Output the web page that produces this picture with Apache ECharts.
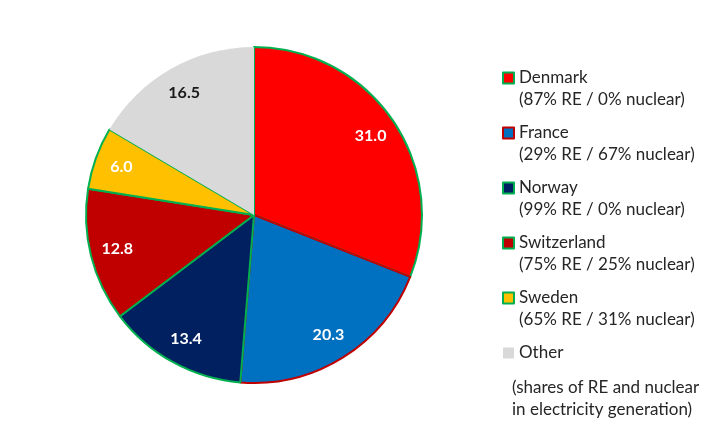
<!DOCTYPE html>
<html>
<head>
<meta charset="UTF-8">
<title>Pie</title>
<script type="text/javascript" src="https://cdn.jsdelivr.net/npm/echarts@6/dist/echarts.min.js"></script>
</head>
<body style="margin:0;background:#fff;">
<div id="box" style="width:720px;height:432px;"></div>

<script type="text/javascript">
// data
var names = ['Denmark', 'France', 'Norway', 'Switzerland', 'Sweden', 'Other'];
var values = [31.0, 20.3, 13.4, 12.8, 6.0, 16.5];
var details = ['(87% RE / 0% nuclear)', '(29% RE / 67% nuclear)', '(99% RE / 0% nuclear)',
               '(75% RE / 25% nuclear)', '(65% RE / 31% nuclear)', ''];
var fills = ['#FF0000', '#0070C0', '#002060', '#C00000', '#FFC000', '#D9D9D9'];
var borders = ['#00B050', '#C00000', '#00B050', '#00B050', '#00B050', null];
var labelColors = ['#fff', '#fff', '#fff', '#fff', '#fff', '#1a1a1a'];
var note = '(shares of RE and nuclear\nin electricity generation)';

var font = 'Lato';

var pieData = [];
var labelData = [];
for (var i = 0; i < names.length; i++) {
  pieData.push({
    name: names[i],
    value: values[i],
    itemStyle: {
      color: fills[i],
      borderColor: borders[i] || fills[i],
      borderWidth: borders[i] ? 2 : 0
    }
  });
  labelData.push({
    name: names[i],
    value: values[i],
    label: { color: labelColors[i] }
  });
}

var mychart = echarts.init(document.getElementById('box'));

mychart.setOption({
  animation: false,
  legend: {
    orient: 'vertical',
    left: 502,
    top: 45,
    padding: 0,
    itemWidth: 11,
    itemHeight: 11,
    itemGap: -8.5,
    icon: 'rect',
    data: names,
    formatter: function (name) {
      var d = details[names.indexOf(name)];
      return '{e|}\n{n|' + name + '}\n' + (d ? '{n|' + d + '}' : '{e|}');
    },
    textStyle: {
      fontFamily: font,
      fontSize: 17,
      color: '#262626',
      rich: {
        e: { height: 22, lineHeight: 22, fontSize: 17 },
        n: { fontFamily: font, fontSize: 17, lineHeight: 22, color: '#262626' }
      }
    }
  },
  graphic: [{
    type: 'text',
    left: 512,
    top: 377,
    style: {
      text: note,
      font: '17px Lato',
      fill: '#262626',
      lineHeight: 22,
      align: 'center'
    }
  }],
  series: [{
    name: 'share',
    type: 'pie',
    center: [254, 215],
    radius: [0, 168],
    startAngle: 90,
    clockwise: true,
    label: { show: false },
    labelLine: { show: false },
    emphasis: { disabled: true },
    data: pieData
  }, {
    name: 'labels',
    type: 'pie',
    center: [254, 215],
    radius: [108, 168],
    startAngle: 90,
    clockwise: true,
    silent: true,
    legendHoverLink: false,
    itemStyle: { color: 'rgba(0,0,0,0)', borderWidth: 0 },
    label: {
      show: true,
      position: 'inside',
      fontFamily: font,
      fontWeight: 'bold',
      fontSize: 16,
      formatter: function (p) { return p.value.toFixed(1); }
    },
    labelLine: { show: false },
    emphasis: { disabled: true },
    data: labelData
  }]
});
</script>
</body>
</html>
